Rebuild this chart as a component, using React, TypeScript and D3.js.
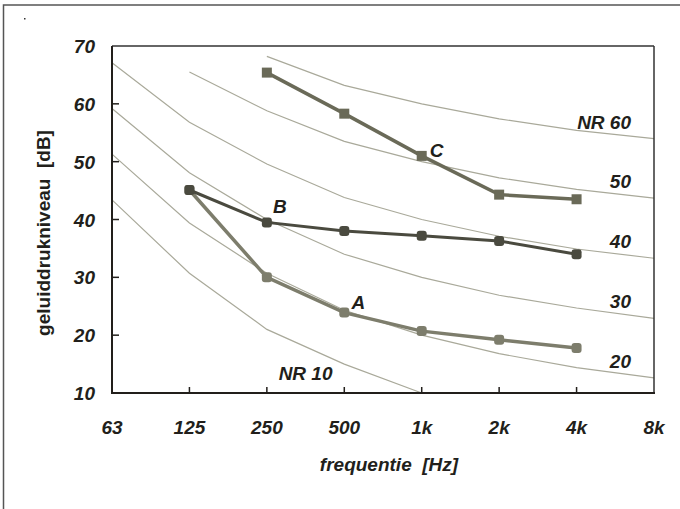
import React from "react";
import * as d3 from "d3";

// octave bands (category axis)
const bands = ["63", "125", "250", "500", "1k", "2k", "4k", "8k"];
const levelTicks = [10, 20, 30, 40, 50, 60, 70];

// NR curves, values per octave band
const nrNames = ["NR 10", "20", "30", "40", "50", "NR 60"];
const nr10 = [43.4, 30.7, 21.0, 15.0, 10, 6.6, 4.2, 2.2];
const nr20 = [51.3, 39.4, 30.7, 24.3, 20, 16.8, 14.4, 12.6];
const nr30 = [59.2, 48.1, 40.0, 34.0, 30, 26.9, 24.7, 22.9];
const nr40 = [67.1, 56.8, 49.6, 43.8, 40, 37.1, 34.9, 33.3];
const nr50 = [75.0, 65.5, 58.8, 53.5, 50, 47.2, 45.2, 43.7];
const nr60 = [82.9, 74.2, 68.2, 63.2, 60, 57.4, 55.4, 54.0];
const nrCurves = [nr10, nr20, nr30, nr40, nr50, nr60];

// measured spectra (null = not measured)
const seriesA = [null, 45.1, 30.0, 23.9, 20.7, 19.2, 17.8, null];
const seriesB = [null, 45.1, 39.5, 38.0, 37.2, 36.3, 34.0, null];
const seriesC = [null, null, 65.4, 58.3, 51.0, 44.3, 43.5, null];

const W = 680;
const H = 509;
const margin = { top: 46, right: 26, bottom: 116, left: 112 };
const font = "'Liberation Sans', Arial, sans-serif";
const ink = "#221f1b";

export default function App() {
  const x = d3
    .scalePoint<string>()
    .domain(bands)
    .range([margin.left, W - margin.right]);
  const y = d3
    .scaleLinear()
    .domain([10, 70])
    .range([H - margin.bottom, margin.top]);

  const line = d3
    .line<[string, number]>()
    .x((d) => x(d[0]) as number)
    .y((d) => y(d[1]));

  const pts = (vals: (number | null)[]) =>
    bands
      .map((b, i) => [b, vals[i]] as [string, number | null])
      .filter((d) => d[1] !== null && d[1]! >= 10 && d[1]! <= 70) as [
      string,
      number
    ][];

  const x0 = margin.left;
  const x1 = W - margin.right;
  const y0 = H - margin.bottom;
  const y1 = margin.top;
  const labelRight = (x("8k") as number) - 23;

  const series = [
    { name: "A", vals: seriesA, color: "#7d7d6c", width: 3.5, shape: "round", lx: 14, ly: -10, at: "500" },
    { name: "B", vals: seriesB, color: "#4a4a3f", width: 3, shape: "round", lx: 13, ly: -15, at: "250" },
    { name: "C", vals: seriesC, color: "#6a6a58", width: 3.5, shape: "square", lx: 15, ly: -5, at: "1k" },
  ];

  const textStyle: React.CSSProperties = {
    fontFamily: font,
    fontWeight: "bold",
    fontStyle: "italic",
    fill: ink,
    whiteSpace: "pre",
  };

  return (
    <svg
      width={W}
      height={H}
      style={{ position: "absolute", left: 0, top: 0, background: "#fff" }}
    >
      {/* outer frame */}
      <rect x={3.5} y={5} width={W + 10} height={H + 10} fill="none" stroke="#555" strokeWidth={1.5} />
      <rect x={24} y={18} width={1.5} height={1.5} fill="#333" />

      {/* NR curves */}
      {nrCurves.map((c, i) => (
        <path key={i} d={line(pts(c)) ?? ""} fill="none" stroke="#a9a99a" strokeWidth={1.2} />
      ))}

      {/* plot frame */}
      <line x1={x0} x2={x1} y1={y1} y2={y1} stroke="#333" strokeWidth={1.5} />
      <line x1={x1} x2={x1} y1={y1} y2={y0} stroke="#333" strokeWidth={1.5} />
      <line x1={x0} x2={x0} y1={y1} y2={y0 + 1} stroke={ink} strokeWidth={2} />
      <line x1={x0 - 1} x2={x1 + 1} y1={y0} y2={y0} stroke={ink} strokeWidth={2} />

      {/* ticks */}
      {bands.slice(1, -1).map((b) => (
        <line key={b} x1={x(b)} x2={x(b)} y1={y0} y2={y0 - 6} stroke={ink} strokeWidth={1.5} />
      ))}
      {levelTicks.slice(1, -1).map((t) => (
        <line key={t} x1={x0} x2={x0 + 7} y1={y(t)} y2={y(t)} stroke={ink} strokeWidth={1.5} />
      ))}

      {/* tick labels */}
      {bands.map((b) => (
        <text key={b} x={x(b)} y={y0 + 41} textAnchor="middle" fontSize={19} style={textStyle}>
          {b}
        </text>
      ))}
      {levelTicks.map((t) => (
        <text key={t} x={x0 - 17} y={y(t) + 7} textAnchor="end" fontSize={19} style={textStyle}>
          {t}
        </text>
      ))}

      {/* axis titles */}
      <text x={389} y={y0 + 78} textAnchor="middle" fontSize={19} style={textStyle}>
        {"frequentie  [Hz]"}
      </text>
      <text
        transform={`translate(50, 233) rotate(-90)`}
        textAnchor="middle"
        fontSize={19}
        style={{ ...textStyle, fontStyle: "normal" }}
      >
        {"geluiddrukniveau  [dB]"}
      </text>

      {/* NR labels */}
      {nrCurves.slice(1).map((c, i) => (
        <text
          key={i}
          x={labelRight}
          y={y(c[7]) - 10}
          textAnchor="end"
          fontSize={19}
          style={textStyle}
        >
          {nrNames[i + 1]}
        </text>
      ))}
      <text
        x={((x("250") as number) + (x("500") as number)) / 2}
        y={y(nr10[3]) + 16}
        textAnchor="middle"
        fontSize={19}
        style={textStyle}
      >
        {nrNames[0]}
      </text>

      {/* measured spectra */}
      {series.map((s) => {
        const p = pts(s.vals);
        return (
          <g key={s.name}>
            <path d={line(p) ?? ""} fill="none" stroke={s.color} strokeWidth={s.width} />
            {p.map((d) => (
              <rect
                key={d[0]}
                x={(x(d[0]) as number) - 5}
                y={y(d[1]) - 5}
                width={10}
                height={10}
                rx={s.shape === "round" ? 3 : 0}
                fill={s.color}
              />
            ))}
            <text
              x={(x(s.at) as number) + s.lx}
              y={y(s.vals[bands.indexOf(s.at)] as number) + s.ly + 6}
              textAnchor="middle"
              fontSize={19}
              style={textStyle}
            >
              {s.name}
            </text>
          </g>
        );
      })}
    </svg>
  );
}
